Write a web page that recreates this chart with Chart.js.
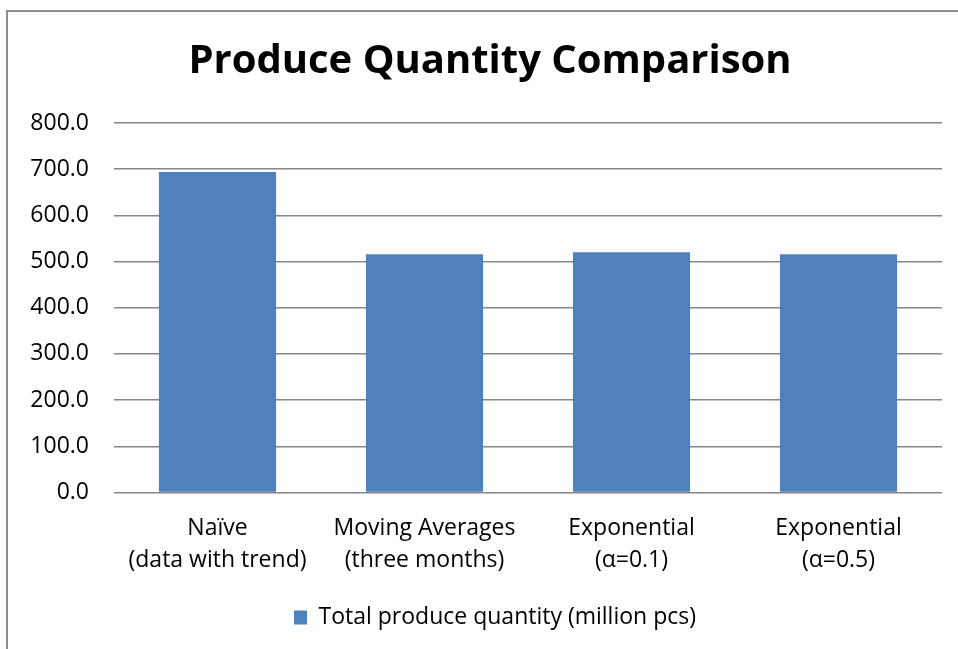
<!DOCTYPE html>
<html>
<head>
<meta charset="utf-8">
<script src="https://cdn.jsdelivr.net/npm/chart.js"></script>
<style>
	html, body { margin: 0; padding: 0; background: #fff; overflow: hidden; }
	#frame { position: absolute; left: 6px; top: 10px; width: 1000px; height: 700px; border: 2px solid #8e8e8e; }
	#wrap { position: absolute; left: 0; top: 0; width: 958px; height: 649px; }
</style>
</head>
<body>
<div id="frame"></div>
<div id="wrap"><canvas id="chart"></canvas></div>
<script>
(function () {
	'use strict';

	/* ---------- Data ---------- */

	var TITLE = 'Produce Quantity Comparison';
	var CATEGORIES = [
		['Naïve', '(data with trend)'],
		['Moving Averages', '(three months)'],
		['Exponential', '(α=0.1)'],
		['Exponential', '(α=0.5)'],
	];
	var SERIES_LABEL = 'Total produce quantity (million pcs)';
	var QUANTITY = [694, 516, 520, 516];
	var Y_MIN = 0;
	var Y_MAX = 800;
	var Y_STEP = 100;

	/* ---------- Styling ---------- */

	var FONT = '"Open Sans", Calibri, "Noto Sans", sans-serif';
	var BAR_COLOR = '#4f81bd';
	var GRID_COLOR = '#868686';

	Chart.defaults.font.family = FONT;
	Chart.defaults.color = '#000';

	/**
	 * Title and legend sit a little right of the canvas centre in the
	 * original, so nudge their boxes once layout is done.
	 */
	var nudgeBlocks = {
		id: 'nudgeBlocks',
		afterLayout: function (chart) {
			if (chart.titleBlock) {
				chart.titleBlock.left += 7;
				chart.titleBlock.right += 7;
			}
			if (chart.legend) {
				chart.legend.left += 12;
				chart.legend.right += 12;
			}
		},
	};

	new Chart(document.getElementById('chart'), {
		type: 'bar',
		data: {
			labels: CATEGORIES,
			datasets: [
				{
					label: SERIES_LABEL,
					data: QUANTITY,
					backgroundColor: BAR_COLOR,
					borderWidth: 0,
					categoryPercentage: 1,
					barPercentage: 0.566,
				},
			],
		},
		plugins: [nudgeBlocks],
		options: {
			responsive: true,
			maintainAspectRatio: false,
			animation: false,
			layout: { padding: { top: 10, right: 16, bottom: 10, left: 24 } },
			scales: {
				x: {
					grid: { display: false, drawTicks: false },
					border: { display: false },
					ticks: {
						font: { size: 23, lineHeight: 1.39 },
						padding: 20,
						maxRotation: 0,
						autoSkip: false,
					},
					afterFit: function (s) { s.height = 103.5; },
				},
				y: {
					min: Y_MIN,
					max: Y_MAX,
					border: { display: false },
					grid: { color: GRID_COLOR, lineWidth: 1.5, drawTicks: false },
					ticks: {
						stepSize: Y_STEP,
						padding: 25,
						font: { size: 23 },
						callback: function (v) { return Number(v).toFixed(1); },
					},
					afterFit: function (s) { s.width = 90; },
				},
			},
			plugins: {
				title: {
					display: true,
					text: TITLE,
					font: { size: 40, weight: 'bold' },
					padding: { top: 28, bottom: 37 },
				},
				legend: {
					position: 'bottom',
					labels: {
						boxWidth: 13,
						boxHeight: 14,
						font: { size: 23 },
					},
				},
				tooltip: { enabled: false },
			},
		},
	});
})();
</script>
</body>
</html>
